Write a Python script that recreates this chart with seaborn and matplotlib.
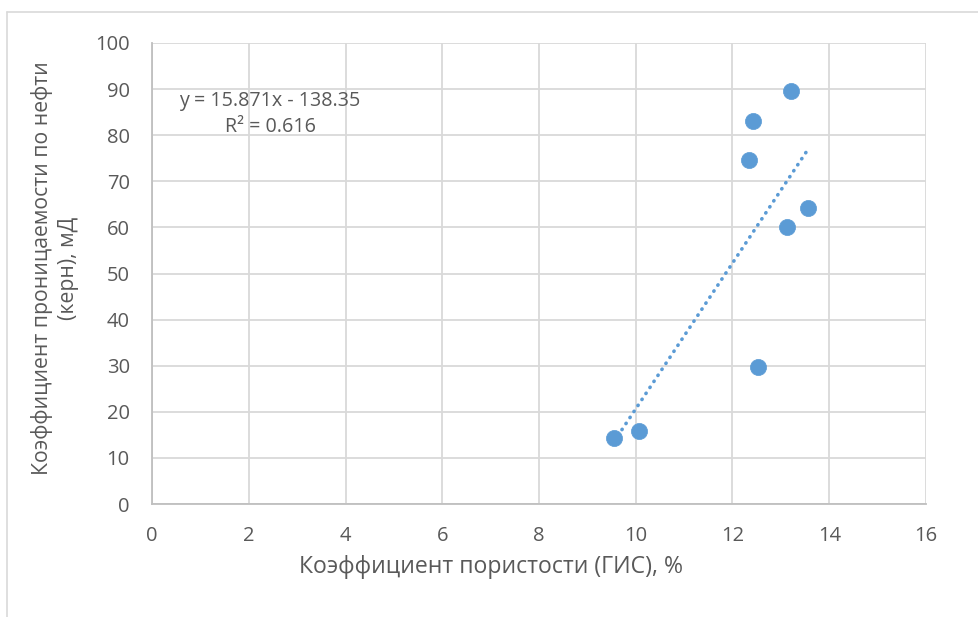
import numpy as np
import pandas as pd
import seaborn as sns
import matplotlib.pyplot as plt
from matplotlib.lines import Line2D

porosity = [9.55, 10.07, 12.52, 12.35, 12.43, 13.21, 13.13, 13.57]
permeability = [14.3, 15.8, 29.7, 74.6, 83.1, 89.5, 60.1, 64.1]
x_ticks = [0, 2, 4, 6, 8, 10, 12, 14, 16]
y_ticks = [0, 10, 20, 30, 40, 50, 60, 70, 80, 90, 100]
eq_text = "y = 15.871x - 138.35\nR² = 0.616"
x_label = "Коэффициент пористости (ГИС), %"
y_label = "Коэффициент проницаемости по нефти\n(керн), мД"

sns.set_theme(style="white")
plt.rcParams['font.family'] = ['Open Sans', 'DejaVu Sans']

df = pd.DataFrame({"x": porosity, "y": permeability})
blue = "#5B9BD5"
grey_txt = "#595959"

fig = plt.figure(figsize=(9.79, 6.17), dpi=100)
ax = fig.add_axes([152/979, 1-504/617, (926-152)/979, (504-43)/617])

# trendline
coef = np.polyfit(df["x"], df["y"], 1)
xs = np.linspace(df["x"].min(), df["x"].max(), 50)
tl = pd.DataFrame({"x": xs, "y": np.polyval(coef, xs)})
sns.lineplot(data=tl, x="x", y="y", ax=ax, color=blue, linewidth=2.6,
             linestyle=(0, (0.1, 1.9)), zorder=3)
ax.lines[-1].set_dash_capstyle("round")

sns.scatterplot(data=df, x="x", y="y", ax=ax, color=blue, s=135,
                edgecolor=blue, linewidth=0.5, zorder=4)

ax.set_xlim(0, 16)
ax.set_ylim(0, 100)
ax.set_xticks(x_ticks)
ax.set_yticks(y_ticks)
ax.grid(True, color="#D9D9D9", linewidth=1.3)
ax.set_axisbelow(True)
for s in ["top", "right"]:
    ax.spines[s].set_visible(False)
for s in ["left", "bottom"]:
    ax.spines[s].set_color("#BFBFBF")
    ax.spines[s].set_linewidth(1.3)
ax.tick_params(axis="both", length=0, labelsize=14.5, labelcolor=grey_txt)
ax.tick_params(axis="x", pad=16)
ax.tick_params(axis="y", pad=16)

ax.set_xlabel(x_label, fontsize=16.6, color=grey_txt)
ax.set_ylabel(y_label, fontsize=15.3, color=grey_txt, linespacing=1.3)
ax.xaxis.set_label_coords((491 - 152) / 774, -(567 - 504) / 461, transform=ax.transAxes)
ax.yaxis.set_label_coords(-(152 - 55) / 774, (504 - 268) / 461, transform=ax.transAxes)
ax.xaxis.label.set_va("center")
ax.yaxis.label.set_va("center")

ax.text(2.44, 84.6, eq_text, fontsize=14.2, color=grey_txt, ha="center",
        va="center", multialignment="center", linespacing=1.45)

# outer chart border (clipped by image edges)
fig.add_artist(Line2D([7/979, 7/979], [0, 1-12/617], transform=fig.transFigure,
                      color="#D9D9D9", linewidth=1.2))
fig.add_artist(Line2D([7/979, 1], [1-12/617, 1-12/617], transform=fig.transFigure,
                      color="#D9D9D9", linewidth=1.2))

fig.savefig("out.png", dpi=100)
